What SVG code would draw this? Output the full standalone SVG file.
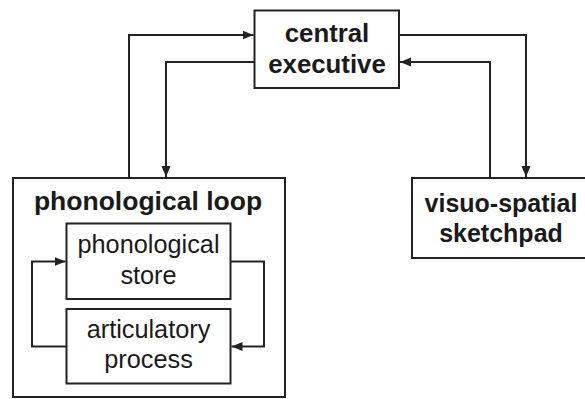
<svg xmlns="http://www.w3.org/2000/svg" width="585" height="399" viewBox="0 0 585 399">
<style>
.box{fill:#fff;stroke:#222;stroke-width:2}
.t{font-family:"Liberation Sans",Arial,sans-serif;font-size:25px;fill:#1a1a1a;text-anchor:middle}
.b{font-weight:bold}
.c{fill:none;stroke:#222;stroke-width:2;marker-end:url(#ah)}
</style>
<defs>
<marker id="ah" markerUnits="userSpaceOnUse" markerWidth="12" markerHeight="10" refX="11" refY="5" orient="auto">
<path d="M0,0.5 L11,5 L0,9.5 Z" fill="#222"/>
</marker>
</defs>
<rect width="585" height="399" fill="#fff"/>
<g id="phonological-loop">
<rect class="box" x="13" y="178" width="272" height="219"/>
<text class="t b" x="148" y="210" style="font-size:26.5px">phonological loop</text>
</g>
<g id="phonological-store">
<rect class="box" x="66.5" y="223.5" width="164" height="75.5"/>
<text class="t" x="148.5" y="253" style="font-size:25.3px">phonological</text>
<text class="t" x="148.5" y="284" style="font-size:25.3px">store</text>
</g>
<g id="articulatory-process">
<rect class="box" x="66.5" y="309" width="164" height="74.5"/>
<text class="t" x="148.5" y="338" style="font-size:25.3px">articulatory</text>
<text class="t" x="148.5" y="368" style="font-size:25.3px">process</text>
</g>
<g id="central-executive">
<rect class="box" x="254.5" y="10.5" width="144.5" height="77.5"/>
<text class="t b" x="327" y="42" style="font-size:25.8px">central</text>
<text class="t b" x="327" y="73" style="font-size:25.8px">executive</text>
</g>
<g id="visuo-spatial-sketchpad">
<rect class="box" x="412" y="178" width="180" height="80"/>
<text class="t b" x="501" y="212">visuo-spatial</text>
<text class="t b" x="501" y="242">sketchpad</text>
</g>
<g id="connectors">
<path class="c" d="M129,177 V35 H253.5"/>
<path class="c" d="M254.5,62 H166 V177"/>
<path class="c" d="M399,35 H526 V177"/>
<path class="c" d="M490,177 V62 H400"/>
<path class="c" d="M230.5,261.5 H264 V346.5 H231.5"/>
<path class="c" d="M66.5,346.5 H32 V261.5 H65.5"/>
</g>
</svg>
